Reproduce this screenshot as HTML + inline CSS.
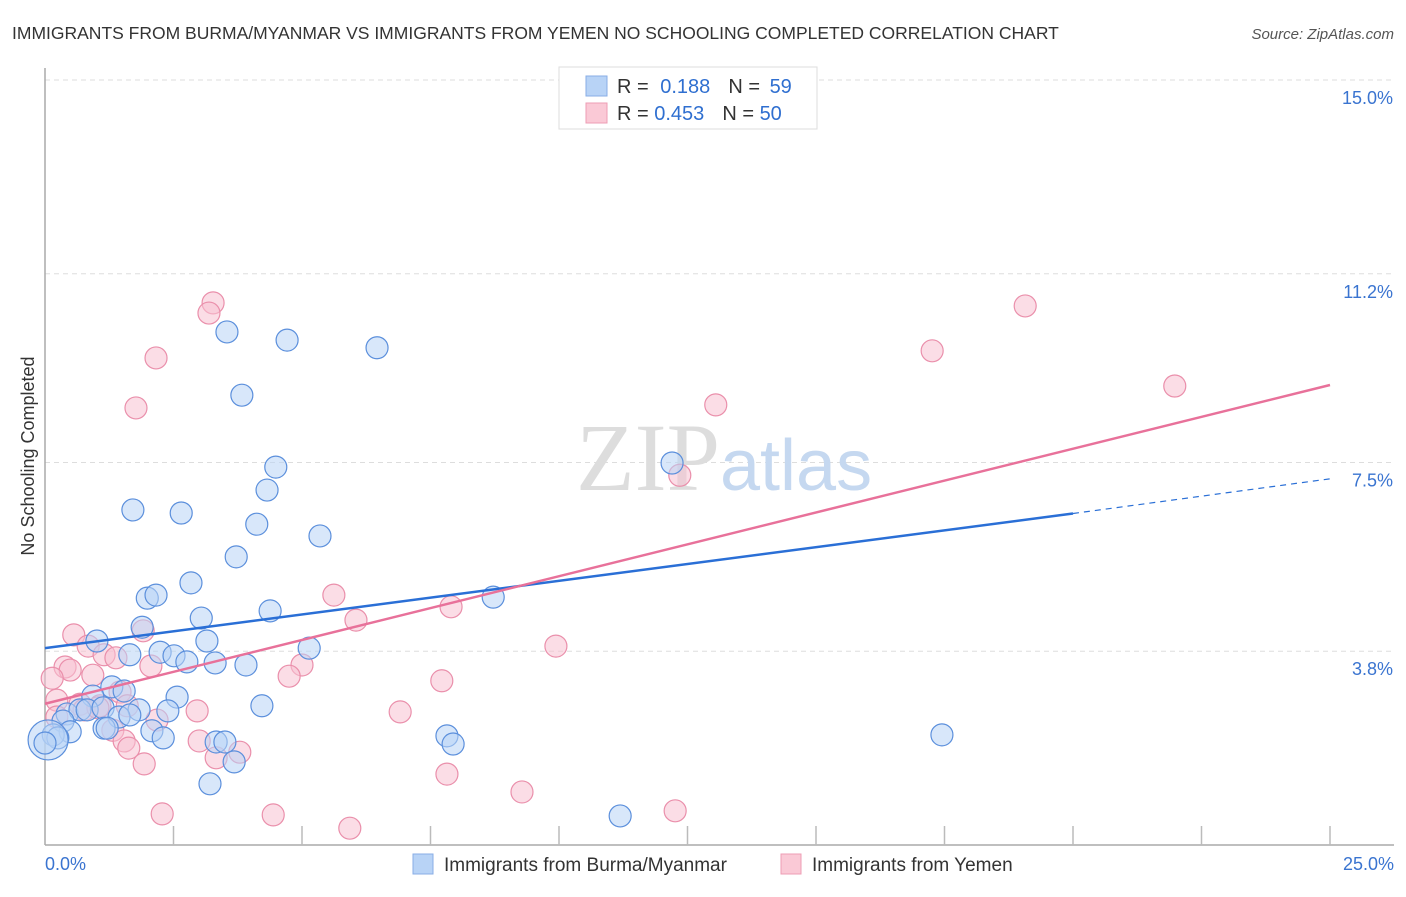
<!DOCTYPE html>
<html><head><meta charset="utf-8"><style>
body{margin:0;background:#fff;font-family:"Liberation Sans",sans-serif;}
</style></head><body>
<svg width="1406" height="892" xmlns="http://www.w3.org/2000/svg" id="chart">
<text x="12" y="39" font-size="17.5" fill="#333">IMMIGRANTS FROM BURMA/MYANMAR VS IMMIGRANTS FROM YEMEN NO SCHOOLING COMPLETED CORRELATION CHART</text>
<text x="1394" y="39" font-size="15" fill="#555" font-style="italic" text-anchor="end">Source: ZipAtlas.com</text>
<text x="34" y="456" font-size="18" fill="#333" text-anchor="middle" transform="rotate(-90 34 456)">No Schooling Completed</text>
<g id="grid"></g>
<text x="720" y="490" font-size="96" font-family="Liberation Serif,serif" fill="#ddd" text-anchor="end">ZIP</text>
<text x="720" y="490" font-size="72" fill="#c5d8f0">atlas</text>
<g id="pts"></g>
<g id="lines"></g>
<g>
<rect x="559" y="67" width="258" height="62" fill="#fff" stroke="#ddd"/>
<rect x="586" y="76" width="21" height="20" fill="#b8d3f6" stroke="#88aee6"/>
<rect x="586" y="103" width="21" height="20" fill="#fac9d6" stroke="#ee9db4"/>
<text x="617" y="93" font-size="20" fill="#333">R = <tspan fill="#2f6fd0" dx="6">0.188</tspan><tspan fill="#333" dx="18">N = </tspan><tspan fill="#2f6fd0" dx="4">59</tspan></text>
<text x="617" y="120" font-size="20" fill="#333">R = <tspan fill="#2f6fd0">0.453</tspan><tspan fill="#333" dx="18">N = </tspan><tspan fill="#2f6fd0">50</tspan></text>
</g>
<g>
<rect x="413" y="854" width="20" height="20" fill="#b8d3f6" stroke="#88aee6"/>
<text x="444" y="871" font-size="19" fill="#333">Immigrants from Burma/Myanmar</text>
<rect x="781" y="854" width="20" height="20" fill="#fac9d6" stroke="#ee9db4"/>
<text x="812" y="871" font-size="19" fill="#333">Immigrants from Yemen</text>
</g>
<script>
const yTicks=[15,11.2,7.5,3.8];
const yTickLabels=["15.0%","11.2%","7.5%","3.8%"];
const xTickVals=[2.5,5,7.5,10,12.5,15,17.5,20,22.5,25];
const burmaX=[3.54,4.71,6.46,3.83,4.49,4.32,1.71,2.65,4.12,5.35,3.72,2.84,1.99,2.16,4.38,3.04,1.89,1.01,3.15,1.65,2.24,2.51,2.76,3.31,3.91,5.14,8.72,12.2,1.30,1.54,0.93,2.57,0.43,0.68,0.82,1.13,1.83,2.39,4.22,1.44,1.15,1.21,2.08,2.30,0.35,0.49,0.16,0.25,0.06,0.0,3.33,3.50,3.68,3.21,7.82,7.94,11.19,17.45,1.65];
const burmaY=[10.06,9.90,9.75,8.82,7.41,6.96,6.57,6.51,6.29,6.06,5.65,5.14,4.84,4.90,4.59,4.45,4.27,4.00,4.00,3.73,3.78,3.71,3.59,3.57,3.53,3.86,4.86,7.49,3.10,3.02,2.92,2.90,2.57,2.65,2.65,2.69,2.65,2.63,2.73,2.51,2.29,2.29,2.24,2.10,2.43,2.22,2.16,2.10,2.06,2.0,2.02,2.02,1.63,1.20,2.14,1.98,0.57,2.16,2.55];
const yemenX=[3.27,3.19,2.16,1.77,19.07,17.26,13.05,21.98,12.35,5.62,7.90,6.05,0.56,0.84,1.91,9.94,0.39,0.49,1.15,1.38,2.06,5.00,4.75,7.72,0.14,0.93,0.23,0.68,0.76,1.07,1.46,2.96,1.60,2.18,6.91,1.32,1.54,1.63,3.00,3.79,3.33,1.93,7.82,9.28,2.28,4.44,5.93,12.26,0.23,1.03];
const yemenY=[10.63,10.43,9.55,8.57,10.57,9.69,8.63,9.00,7.25,4.90,4.67,4.41,4.12,3.90,4.20,3.90,3.49,3.43,3.73,3.67,3.51,3.53,3.31,3.22,3.27,3.33,2.84,2.76,2.65,2.73,3.00,2.63,2.73,2.45,2.61,2.25,2.04,1.90,2.04,1.82,1.71,1.59,1.39,1.04,0.61,0.59,0.33,0.67,2.51,2.69];
const burmaFit=[3.86,6.5,7.18];  // y at x=0, x=20, x=25
const yemenFit=[2.77,9.02];
const X=v=>45+v*(1285/25), Y=v=>845-v*(765/15);
const NS="http://www.w3.org/2000/svg";
function mk(t,a,p){const e=document.createElementNS(NS,t);for(const k in a)e.setAttribute(k,a[k]);p.appendChild(e);return e;}
const grid=document.getElementById('grid');
yTicks.forEach((v,i)=>{
 const l=mk('line',{x1:45,x2:1394,y1:Y(v),y2:Y(v),stroke:'#ddd','stroke-dasharray':'5,4'},grid);
 
 
 const t=mk('text',{x:1393,y:Y(v)+24,'font-size':18,fill:'#3a74d0','text-anchor':'end'},grid);
 t.textContent=yTickLabels[i];
 
 
});
const ax=mk('line',{x1:45,x2:45,y1:68,y2:845,stroke:'#aaa','stroke-width':1.5},grid);


const bx=mk('line',{x1:45,x2:1394,y1:845,y2:845,stroke:'#aaa','stroke-width':1.5},grid);


xTickVals.forEach(v=>{const t=mk('line',{x1:X(v),x2:X(v),y1:826,y2:845,stroke:'#bbb','stroke-width':1.5},grid);
 
 });
const x0=mk('text',{x:45,y:870,'font-size':18,fill:'#3a74d0'},grid);x0.textContent='0.0%';


const x1=mk('text',{x:1394,y:870,'font-size':18,fill:'#3a74d0','text-anchor':'end'},grid);x1.textContent='25.0%';


const pts=document.getElementById('pts');
function series(xs,ys,fill,stroke,name){xs.forEach((x,i)=>{
 const c=mk('circle',{cx:X(x),cy:Y(ys[i]),r:(x===0.06&&name==='burma-point')?20:11,fill:fill,'fill-opacity':0.55,stroke:stroke,'stroke-width':1.2},pts);
 
 });}
series(yemenX,yemenY,'#f8c1d1','#ea8fab','yemen-point');
series(burmaX,burmaY,'#b8d3f6','#5b8fdc','burma-point');
const lines=document.getElementById('lines');
const b1=mk('line',{x1:X(0),y1:Y(burmaFit[0]),x2:X(20),y2:Y(burmaFit[1]),stroke:'#2a6fd6','stroke-width':2.5},lines);


const b2=mk('line',{x1:X(20),y1:Y(burmaFit[1]),x2:X(25),y2:Y(burmaFit[2]),stroke:'#2a6fd6','stroke-width':1.2,'stroke-dasharray':'6,5'},lines);


const p1=mk('line',{x1:X(0),y1:Y(yemenFit[0]),x2:X(25),y2:Y(yemenFit[1]),stroke:'#e8719a','stroke-width':2.5},lines);


</script>
</svg>
</body></html>
